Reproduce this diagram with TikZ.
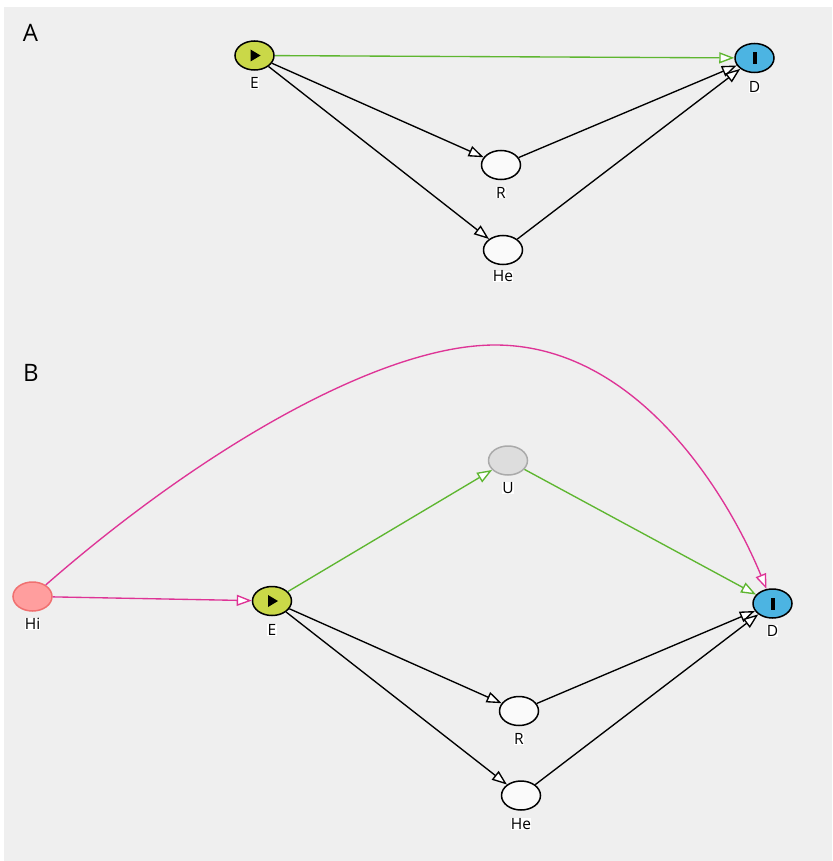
\documentclass[tikz,border=0pt]{standalone}
\usepackage{fontspec}
\setmainfont{Open Sans}
\usetikzlibrary{arrows.meta,shapes.geometric}

\definecolor{panelbg}{RGB}{239,239,239}
\definecolor{expfill}{RGB}{202,216,72}
\definecolor{outfill}{RGB}{76,180,226}
\definecolor{hifill}{RGB}{255,158,158}
\definecolor{hidraw}{RGB}{240,112,112}
\definecolor{ufill}{RGB}{221,221,221}
\definecolor{udraw}{RGB}{170,170,170}
\definecolor{causal}{RGB}{94,182,48}
\definecolor{biasing}{RGB}{222,52,150}
\definecolor{plainfill}{RGB}{250,250,250}

\begin{document}
\begin{tikzpicture}[x=1pt,y=-1pt,
  var/.style={ellipse, minimum width=39pt, minimum height=29pt, inner sep=0pt, line width=1.5pt, draw=black, fill=plainfill},
  expnode/.style={var, fill=expfill},
  outnode/.style={var, fill=outfill},
  ancestor/.style={var, fill=hifill, draw=hidraw},
  latent/.style={var, fill=ufill, draw=udraw},
  lab/.style={font=\fontsize{15.5}{18}\selectfont, fill=white, inner sep=0.3pt},
  panel/.style={font=\fontsize{24}{28}\selectfont, inner sep=0pt},
  link/.style={line width=1.35pt, -{Triangle[length=15pt,width=11pt,fill=white]}},
]
\useasboundingbox (0,0) rectangle (832,861);
\fill[panelbg] (4,7) rectangle (832,861);

% panel titles
\node[panel] (tA) at (30.5,33) {A};
\node[panel] (tB) at (31,372.5) {B};

% ---------- panel A ----------
\node[expnode] (E1) at (254.5,55.5) {};
\node[outnode] (D1) at (754.5,58) {};
\node[var] (R1) at (501,165) {};
\node[var] (He1) at (503,250) {};

\fill[shift={(E1.center)}] (-4,-6) -- (6,0) -- (-4,6) -- cycle;
\fill[shift={(D1.center)}] (-2,-6) rectangle (2,6);

\node[lab] (E1l) at (254.5,83) {E};
\node[lab] (D1l) at (754.5,87) {D};
\node[lab] (R1l) at (501,192.5) {R};
\node[lab] (He1l) at (503,276.5) {He};

\draw[link, draw=causal] (E1) -- (D1);
\draw[link] (E1) -- (R1);
\draw[link] (E1) -- (He1);
\draw[link] (R1) -- (D1);
\draw[link] (He1) -- (D1);

% ---------- panel B ----------
\node[ancestor] (Hi) at (32.5,596.5) {};
\node[expnode] (E2) at (272,601) {};
\node[latent] (U) at (508,460.5) {};
\node[outnode] (D2) at (772.5,603.5) {};
\node[var] (R2) at (519,711) {};
\node[var] (He2) at (521,795.5) {};

\fill[shift={(E2.center)}] (-4,-6) -- (6,0) -- (-4,6) -- cycle;
\fill[shift={(D2.center)}] (-2,-6) rectangle (2,6);

\node[lab] (Hil) at (32.5,624) {Hi};
\node[lab] (E2l) at (272,630) {E};
\node[lab] (Ul) at (508,488) {U};
\node[lab] (D2l) at (772.5,631) {D};
\node[lab] (R2l) at (519,739) {R};
\node[lab] (He2l) at (521,824) {He};

\coordinate (top) at (495,345);

\draw[link, draw=biasing] (Hi) -- (E2);
\draw[link, draw=biasing] (Hi) .. controls (200,450) and (380,345) .. (top)
      .. controls (640,345) and (730,500) .. (D2);
\draw[link, draw=causal] (E2) -- (U);
\draw[link, draw=causal] (U) -- (D2);
\draw[link] (E2) -- (R2);
\draw[link] (E2) -- (He2);
\draw[link] (R2) -- (D2);
\draw[link] (He2) -- (D2);
\end{tikzpicture}
\end{document}
